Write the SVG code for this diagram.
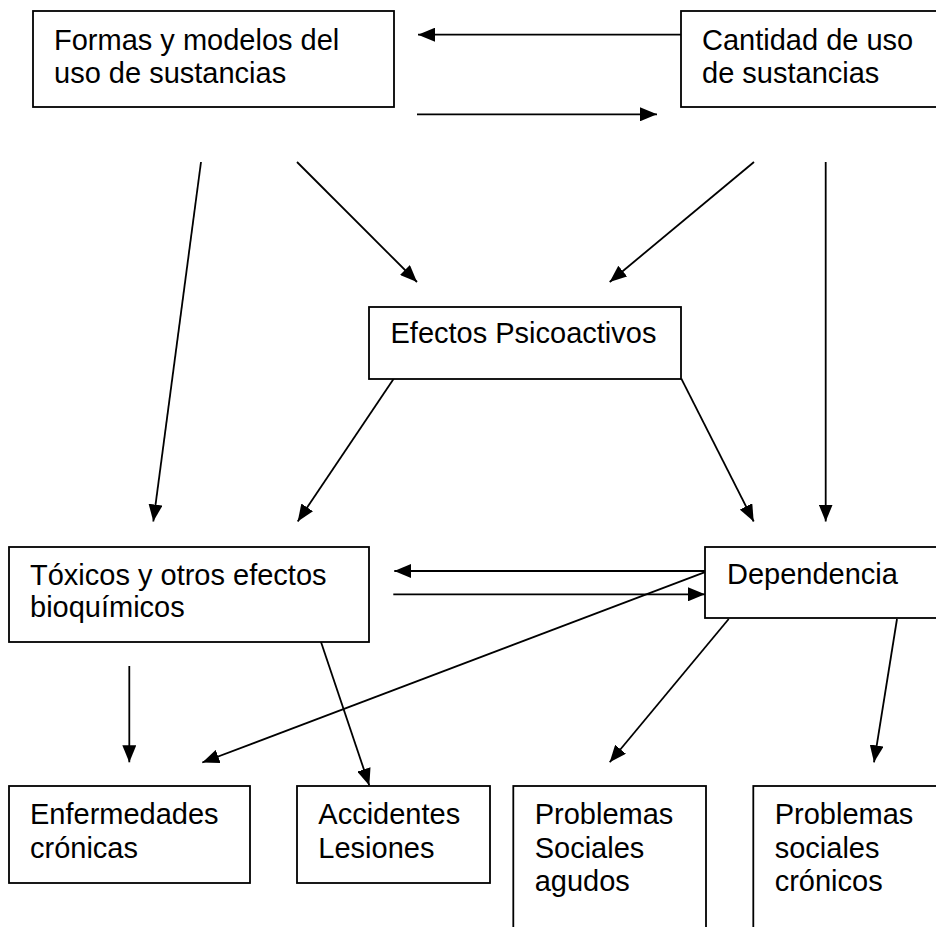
<svg xmlns="http://www.w3.org/2000/svg" width="936" height="927" viewBox="0 0 936 927">
<style>
.box{fill:#fff;stroke:#000;stroke-width:1.8}
.t{font-family:"Liberation Sans",Arial,sans-serif;font-size:29px;fill:#000}
.c{stroke:#000;stroke-width:1.8;fill:none;marker-end:url(#ah)}
</style>
<defs>
<marker id="ah" markerWidth="17" markerHeight="14" refX="17" refY="7" orient="auto" markerUnits="userSpaceOnUse">
<path d="M0,0 L17,7 L0,14 Z" fill="#000"/>
</marker>
</defs>
<rect width="936" height="927" fill="#fff"/>
<g id="connectors">
<line class="c" x1="681" y1="34.7" x2="418" y2="34.7"/>
<line class="c" x1="417" y1="114.3" x2="657" y2="114.3"/>
<line class="c" x1="201" y1="162" x2="153.3" y2="521.5"/>
<line class="c" x1="297" y1="162" x2="417" y2="282"/>
<line class="c" x1="754" y1="162" x2="609.7" y2="282"/>
<line class="c" x1="825.7" y1="162" x2="825.7" y2="521.5"/>
<line class="c" x1="393.7" y1="378.7" x2="297.7" y2="521.5"/>
<line class="c" x1="681.3" y1="378.7" x2="753.7" y2="521.5"/>
<line class="c" x1="705" y1="571" x2="394.3" y2="571"/>
<line class="c" x1="393.3" y1="594.3" x2="705" y2="594.3"/>
<line class="c" x1="706.3" y1="571.7" x2="202.3" y2="762.5"/>
<line class="c" x1="321" y1="642" x2="369.3" y2="785.5"/>
<line class="c" x1="129.3" y1="666" x2="129.3" y2="762.3"/>
<line class="c" x1="728.7" y1="619" x2="609.7" y2="762.3"/>
<line class="c" x1="897" y1="619" x2="874" y2="762.3"/>
</g>
<g id="formas">
<rect class="box" x="33" y="11" width="361" height="96"/>
<text class="t" x="54" y="49.5">Formas y modelos del</text>
<text class="t" x="54" y="82.5">uso de sustancias</text>
</g>
<g id="cantidad">
<rect class="box" x="681" y="11" width="270" height="96"/>
<text class="t" x="702" y="49.5">Cantidad de uso</text>
<text class="t" x="702" y="82.5">de sustancias</text>
</g>
<g id="efectos">
<rect class="box" x="369" y="307" width="312" height="72"/>
<text class="t" x="390.5" y="343.3">Efectos Psicoactivos</text>
</g>
<g id="toxicos">
<rect class="box" x="9" y="547" width="360" height="95"/>
<text class="t" x="30" y="585">Tóxicos y otros efectos</text>
<text class="t" x="30" y="617">bioquímicos</text>
</g>
<g id="dependencia">
<rect class="box" x="705" y="547" width="250" height="71"/>
<text class="t" x="727" y="584.3">Dependencia</text>
</g>
<g id="enfermedades">
<rect class="box" x="9" y="786" width="241" height="97"/>
<text class="t" x="30" y="824.3">Enfermedades</text>
<text class="t" x="30" y="857.5">crónicas</text>
</g>
<g id="accidentes">
<rect class="box" x="297" y="786" width="193" height="97"/>
<text class="t" x="318.3" y="824.3">Accidentes</text>
<text class="t" x="318.3" y="857.5">Lesiones</text>
</g>
<g id="agudos">
<rect class="box" x="513.3" y="786" width="192.7" height="180"/>
<text class="t" x="534.7" y="824.3">Problemas</text>
<text class="t" x="534.7" y="857.5">Sociales</text>
<text class="t" x="534.7" y="890.5">agudos</text>
</g>
<g id="cronicos">
<rect class="box" x="753.3" y="786" width="200" height="180"/>
<text class="t" x="774.7" y="824.3">Problemas</text>
<text class="t" x="774.7" y="857.5">sociales</text>
<text class="t" x="774.7" y="890.5">crónicos</text>
</g>
</svg>
